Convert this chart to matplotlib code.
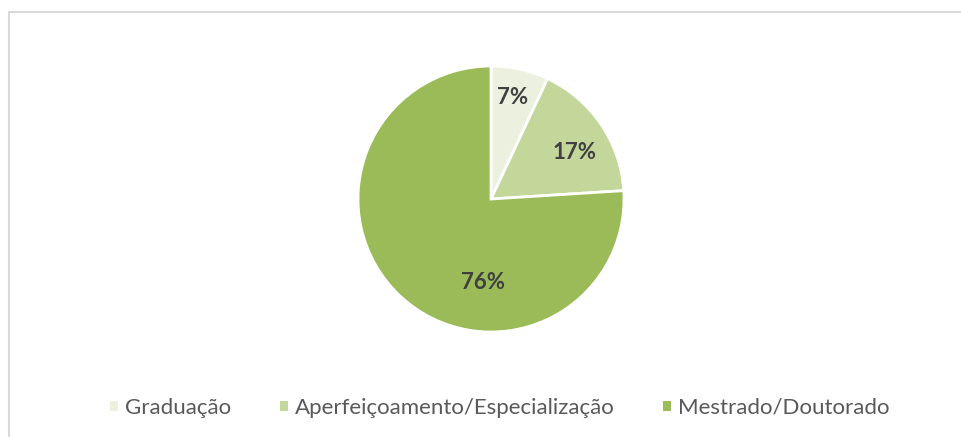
import matplotlib
matplotlib.use("Agg")
import matplotlib.pyplot as plt
from matplotlib.patches import Rectangle, Patch

categories = ["Graduação", "Aperfeiçoamento/Especialização", "Mestrado/Doutorado"]
values = [7, 17, 76]
labels = ["7%", "17%", "76%"]
colors = ["#ebf1de", "#c4d79b", "#9bbb59"]

W, H = 961, 437
fig = plt.figure(figsize=(W / 100, H / 100), dpi=100)
fig.patch.set_facecolor("white")

# outer frame (cut at right/bottom)
fig.add_artist(Rectangle((8.5 / W, -0.1), 2.0, (H - 11.5) / H + 0.1,
                         transform=fig.transFigure, fill=False,
                         edgecolor="#d9d9d9", linewidth=1.5))

cx, cy, r = 491, 199, 133
ax = fig.add_axes([(cx - r) / W, (H - cy - r) / H, 2 * r / W, 2 * r / H])
wedges, _ = ax.pie(values, colors=colors, startangle=90, counterclock=False,
                   radius=1, wedgeprops=dict(edgecolor="white", linewidth=2))
ax.set_xlim(-1, 1)
ax.set_ylim(-1, 1)
ax.set_aspect("equal")
ax.axis("off")

# label positions (relative to pie center, in radius units)
label_pos = [(0.165, 0.76), (0.63, 0.35), (-0.06, -0.63)]
for lab, (lx, ly) in zip(labels, label_pos):
    ax.text(lx, ly, lab, ha="center", va="center", fontsize=16,
            fontweight="bold", color="#404040", family="Lato")

handles = [Patch(facecolor=c, edgecolor="none") for c in colors]
leg = fig.legend(handles, categories, loc="center", bbox_to_anchor=(500 / W, (H - 408) / H),
                 ncol=3, frameon=False, handlelength=0.36,
                 handleheight=0.36, handletextpad=0.3, columnspacing=2.2,
                 prop={"family": "Lato", "size": 16})
for t in leg.get_texts():
    t.set_color("#595959")

fig.savefig("out.png", dpi=100)
